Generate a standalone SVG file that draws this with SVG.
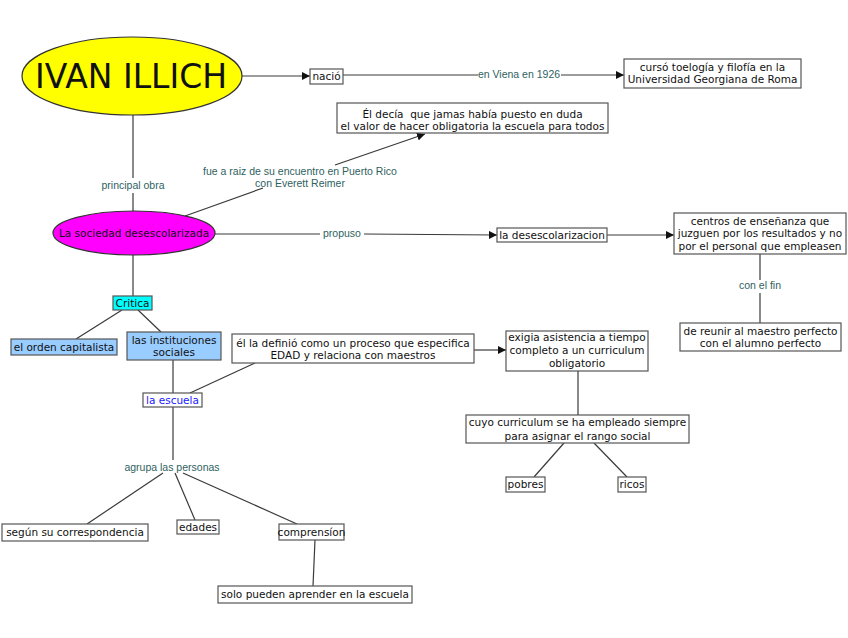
<svg xmlns="http://www.w3.org/2000/svg" width="848" height="638" viewBox="0 0 848 638">
<defs>
<marker id="arr" viewBox="0 0 10 10" refX="10" refY="5" markerWidth="8" markerHeight="8" markerUnits="userSpaceOnUse" orient="auto"><path d="M0,0 L10,5 L0,10 z" fill="#111"/></marker>
<style>
.bg{fill:#fff}
.box{fill:#fff;stroke:#555;stroke-width:1.2}
.t{font-family:"DejaVu Sans",Verdana,sans-serif;font-size:10.5px;fill:#111;text-anchor:middle}
.lbl{font-family:"Liberation Sans",Arial,sans-serif;font-size:10.5px;fill:#2f5f5f;text-anchor:middle}
.c{fill:none;stroke:#3a3a3a;stroke-width:1.2}
.a{marker-end:url(#arr)}
</style>
</defs>
<rect class="bg" x="0" y="0" width="848" height="638"/>
<g id="connectors">
<path class="c a" d="M242,76 L310,76"/>
<path class="c" d="M343,75 L478,75"/>
<path class="c a" d="M561,75 L624,75"/>
<path class="c" d="M185,216 L263,188"/>
<path class="c a" d="M335,165 L425,134"/>
<path class="c" d="M133,115 L133,178"/>
<path class="c" d="M133,193 L133,211"/>
<path class="c" d="M215,234 L320,234"/>
<path class="c a" d="M364,234 L497,235"/>
<path class="c a" d="M607,235 L674,235"/>
<path class="c" d="M760,254 L760,280"/>
<path class="c" d="M760,293 L760,323"/>
<path class="c" d="M133,255 L133,296"/>
<path class="c" d="M122,310 L76,339"/>
<path class="c" d="M138,310 L161,332"/>
<path class="c" d="M173,360 L173,393"/>
<path class="c" d="M255,363 L190,393"/>
<path class="c a" d="M474,350 L506,350"/>
<path class="c" d="M578,371 L578,415"/>
<path class="c" d="M564,443 L534,477"/>
<path class="c" d="M594,443 L627,477"/>
<path class="c" d="M173,407 L173,460"/>
<path class="c" d="M163,473 L87,524"/>
<path class="c" d="M175,473 L195,520"/>
<path class="c" d="M183,473 L297,524"/>
<path class="c" d="M315,540 L313,586"/>
<text class="lbl" x="519" y="78">en Viena en 1926</text>
<text class="lbl" x="300" y="175">fue a raiz de su encuentro en Puerto Rico</text>
<text class="lbl" x="300" y="187">con Everett Reimer</text>
<text class="lbl" x="133" y="189">principal obra</text>
<text class="lbl" x="342" y="237">propuso</text>
<text class="lbl" x="760" y="289">con el fin</text>
<text class="lbl" x="172" y="471">agrupa las personas</text>
</g>
<g id="ivan"><ellipse cx="132" cy="76" rx="110" ry="39" fill="#ffff00" stroke="#333" stroke-width="1.2"/><text class="t" x="131" y="88" style="font-size:33px">IVAN ILLICH</text></g>
<g id="nacio"><rect class="box" x="310" y="69" width="33" height="15"/><text class="t" x="326.5" y="80">nació</text></g>
<g id="curso"><rect class="box" x="624" y="59" width="177" height="29"/><text class="t" x="712.5" y="71">cursó toelogía y filofía en la</text><text class="t" x="712.5" y="83">Universidad Georgiana de Roma</text></g>
<g id="eldecia"><rect class="box" x="337" y="103" width="271" height="30"/><text class="t" x="472.5" y="118" xml:space="preserve">Él decía  que jamas había puesto en duda</text><text class="t" x="472.5" y="130">el valor de hacer obligatoria la escuela para todos</text></g>
<g id="sociedad"><ellipse cx="134" cy="233" rx="81" ry="22" fill="#ff00ff" stroke="#333" stroke-width="1.2"/><text class="t" x="134" y="237">La sociedad desescolarizada</text></g>
<g id="desescolarizacion"><rect class="box" x="497" y="228" width="110" height="14"/><text class="t" x="552" y="239">la desescolarizacion</text></g>
<g id="centros"><rect class="box" x="674" y="213" width="172" height="41"/><text class="t" x="760" y="225">centros de enseñanza que</text><text class="t" x="760" y="237">juzguen por los resultados y no</text><text class="t" x="760" y="250">por el personal que empleasen</text></g>
<g id="reunir"><rect class="box" x="680" y="323" width="161" height="28"/><text class="t" x="760.5" y="335">de reunir al maestro perfecto</text><text class="t" x="760.5" y="347">con el alumno perfecto</text></g>
<g id="critica"><rect class="box" x="113" y="296" width="39" height="14" style="fill:#00ffff"/><text class="t" x="132.5" y="307">Critica</text></g>
<g id="orden"><rect class="box" x="11" y="339" width="106" height="16" style="fill:#99ccff"/><text class="t" x="64" y="351">el orden capitalista</text></g>
<g id="instituciones"><rect class="box" x="127" y="332" width="94" height="28" style="fill:#99ccff"/><text class="t" x="174" y="344">las instituciones</text><text class="t" x="174" y="356">sociales</text></g>
<g id="escuela"><rect class="box" x="143" y="393" width="59" height="14"/><text class="t" x="172.5" y="404" style="fill:#1a1aff">la escuela</text></g>
<g id="definio"><rect class="box" x="232" y="334" width="242" height="29"/><text class="t" x="353" y="347">él la definió como un proceso que especifica</text><text class="t" x="353" y="359">EDAD y relaciona con maestros</text></g>
<g id="exigia"><rect class="box" x="506" y="331" width="142" height="40"/><text class="t" x="577" y="341">exigia asistencia a tiempo</text><text class="t" x="577" y="354">completo a un curriculum</text><text class="t" x="577" y="367">obligatorio</text></g>
<g id="cuyo"><rect class="box" x="466" y="415" width="223" height="28"/><text class="t" x="577.5" y="426">cuyo curriculum se ha empleado siempre</text><text class="t" x="577.5" y="440">para asignar el rango social</text></g>
<g id="pobres"><rect class="box" x="506" y="477" width="39" height="15"/><text class="t" x="525.5" y="488">pobres</text></g>
<g id="ricos"><rect class="box" x="618" y="477" width="28" height="15"/><text class="t" x="632" y="488">ricos</text></g>
<g id="segun"><rect class="box" x="2" y="524" width="146" height="17"/><text class="t" x="75" y="536">según su correspondencia</text></g>
<g id="edades"><rect class="box" x="177" y="520" width="42" height="14"/><text class="t" x="198" y="531">edades</text></g>
<g id="comprension"><rect class="box" x="279" y="524" width="65" height="16"/><text class="t" x="311.5" y="536">comprensíon</text></g>
<g id="solo"><rect class="box" x="218" y="586" width="194" height="17"/><text class="t" x="315" y="598">solo pueden aprender en la escuela</text></g>
</svg>
